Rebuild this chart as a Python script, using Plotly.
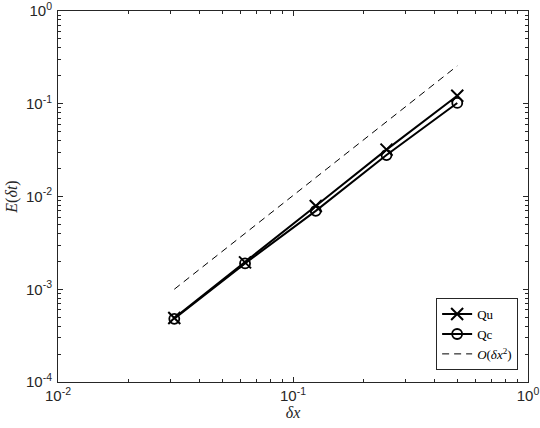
import plotly.graph_objects as go

# dados
dx = [1 / 32, 1 / 16, 1 / 8, 1 / 4, 1 / 2]
err_qu = [4.9e-4, 1.95e-3, 7.9e-3, 0.032, 0.122]
err_qc = [4.8e-4, 1.9e-3, 7.0e-3, 0.028, 0.102]
ref_x = [1 / 32, 1 / 2]
ref_y = [1.0e-3, 0.256]

x_ticks = [0.01, 0.1, 1]
x_ticktext = ["10<sup>-2</sup>", "10<sup>-1</sup>", "10<sup>0</sup>"]
y_ticks = [1e-4, 1e-3, 1e-2, 1e-1, 1]
y_ticktext = ["10<sup>-4</sup>", "10<sup>-3</sup>", "10<sup>-2</sup>",
              "10<sup>-1</sup>", "10<sup>0</sup>"]

AXIS_COLOR = "#262626"
SERIF = "Liberation Serif"


def minor_ticks(lo, hi):
    vals = []
    for e in range(lo, hi):
        for m in range(2, 10):
            vals.append(m * 10 ** e)
    return vals


fig = go.Figure()

fig.add_trace(go.Scatter(
    x=dx, y=err_qu, name="Qu", mode="lines+markers",
    line=dict(color="black", width=2),
    marker=dict(symbol="x-thin", size=12, color="black",
                line=dict(color="black", width=2)),
))
fig.add_trace(go.Scatter(
    x=dx, y=err_qc, name="Qc", mode="lines+markers",
    line=dict(color="black", width=2),
    marker=dict(symbol="circle-open", size=10, color="black",
                line=dict(color="black", width=1.8)),
))
fig.add_trace(go.Scatter(
    x=ref_x, y=ref_y, name="<i>O</i>(<i>δx</i><sup>2</sup>)", mode="lines",
    line=dict(color="black", width=1, dash="7px,5px"),
))

axis_common = dict(
    type="log",
    automargin=False,
    showgrid=False,
    zeroline=False,
    showline=True,
    linecolor=AXIS_COLOR,
    linewidth=1,
    mirror="allticks",
    ticks="inside",
    ticklen=5,
    tickcolor=AXIS_COLOR,
    ticklabeloverflow="allow",
    tickfont=dict(family="Liberation Sans", size=15, color=AXIS_COLOR),
)

fig.update_xaxes(
    **axis_common,
    range=[-2, 0],
    tickmode="array", tickvals=x_ticks, ticktext=x_ticktext,
    minor=dict(ticks="inside", ticklen=3, tickcolor=AXIS_COLOR,
               tickmode="array", tickvals=minor_ticks(-2, 0)),
    title=dict(text="<i>δx</i>", font=dict(family=SERIF, size=16, color=AXIS_COLOR),
               standoff=3),
)
fig.update_yaxes(
    **axis_common,
    range=[-4, 0],
    tickmode="array", tickvals=y_ticks, ticktext=y_ticktext,
    ticklabelstandoff=2,
    minor=dict(ticks="inside", ticklen=3, tickcolor=AXIS_COLOR,
               tickmode="array", tickvals=minor_ticks(-4, 0)),
    title=dict(text="<i>E</i>(<i>δt</i>)", font=dict(family=SERIF, size=16, color=AXIS_COLOR),
               standoff=4),
)

fig.update_layout(
    width=540, height=428,
    margin=dict(l=58, r=12, t=11, b=46),
    paper_bgcolor="white",
    plot_bgcolor="white",
    showlegend=True,
    legend=dict(
        x=0.979, y=0.032, xanchor="right", yanchor="bottom",
        bgcolor="white", bordercolor=AXIS_COLOR, borderwidth=1,
        font=dict(family=SERIF, size=13, color="black"),
        tracegroupgap=0, itemwidth=30,
    ),
)

# sem margem na página, para a figura ocupar a janela inteira
fig.write_html(
    "out.html",
    config={"displayModeBar": False},
    post_script="document.body.style.margin='0';document.body.style.overflow='hidden';",
)
